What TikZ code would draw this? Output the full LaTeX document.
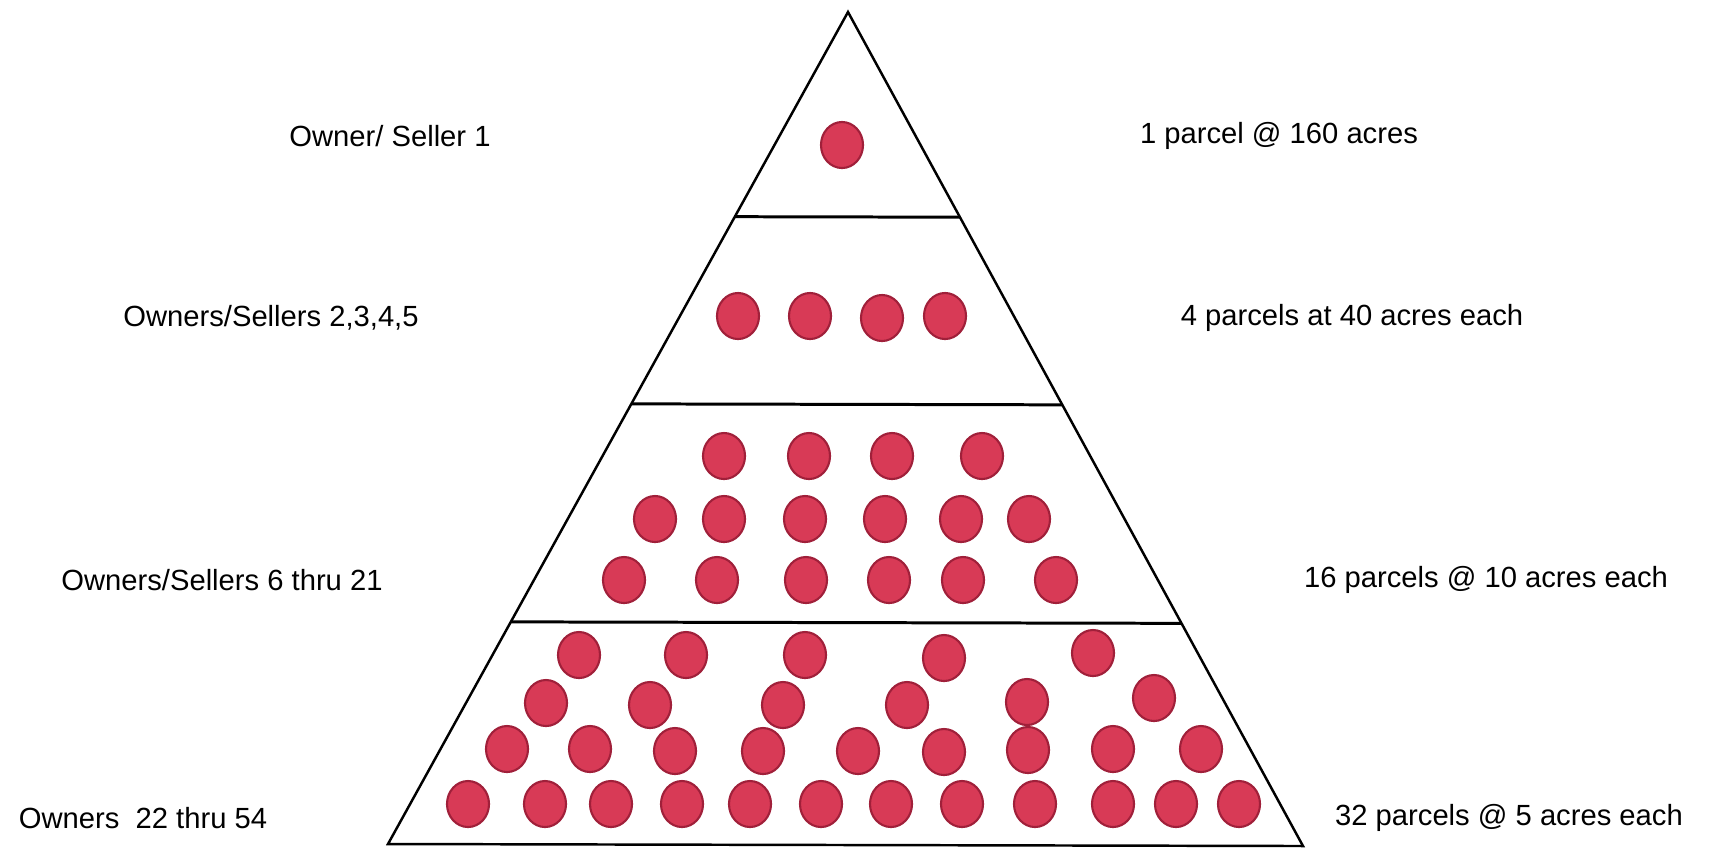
\documentclass[tikz,border=0pt]{standalone}
\usepackage{fontspec}
\setmainfont{Liberation Sans}
\usetikzlibrary{calc}
\definecolor{parcelred}{RGB}{216,58,86}
\definecolor{parcelrim}{RGB}{160,32,58}
\tikzset{
  parcel/.style={fill=parcelred, draw=parcelrim, line width=0.6pt},
  tiertext/.style={font=\fontsize{8.3}{10}\selectfont, inner sep=0pt},
  divider/.style={line width=0.85pt}
}
\begin{document}
\begin{tikzpicture}[x=0.01cm, y=-0.01cm]
    \useasboundingbox (0,0) rectangle (1711,850);

    % pyramid outline
    \coordinate (apex) at (848,12);
    \coordinate (bl) at (388,844);
    \coordinate (br) at (1303,846);
    \draw[line width=0.7pt] (apex) -- (bl) -- (br) -- cycle;

    % tier dividers
    \draw[divider] ($(apex)!0.246!(bl)$) -- ($(apex)!0.246!(br)$);
    \draw[divider] ($(apex)!0.471!(bl)$) -- ($(apex)!0.471!(br)$);
    \draw[divider] ($(apex)!0.733!(bl)$) -- ($(apex)!0.733!(br)$);

    % parcels, one dot each
    \foreach \px/\py in {842/145,
        738/316, 810/316, 882/318, 945/316,
        724/456, 809/456, 892/456, 982/456,
        655/519, 724/519, 805/519, 885/519, 961/519, 1029/519,
        624/580, 717/580, 806/580, 889/580, 963/580, 1056/580,
        579/655, 686/655, 805/655, 944/658, 1093/653,
        546/703, 650/705, 783/705, 907/705, 1027/702, 1154/698,
        507/749, 590/749, 675/751, 763/751, 858/751, 944/752, 1028/750, 1113/749, 1201/749,
        468/804, 545/804, 611/804, 682/804, 750/804, 821/804, 891/804, 962/804, 1035/804, 1113/804, 1176/804, 1239/804}
        \draw[parcel] (\px,\py) ellipse [x radius=0.21cm, y radius=0.23cm];

    % owners on the left
    \node[tiertext] (own1) at (390,136) {Owner/ Seller 1};
    \node[tiertext] (own2) at (271,318) {Owners/Sellers 2,3,4,5};
    \node[tiertext] (own3) at (222,580) {Owners/Sellers 6 thru 21};
    \node[tiertext] (own4) at (143,818) {Owners\ \ 22 thru 54};

    % parcel sizes on the right
    \node[tiertext] (size1) at (1279,136) {1 parcel @ 160 acres};
    \node[tiertext] (size2) at (1352,318) {4 parcels at 40 acres each};
    \node[tiertext] (size3) at (1486,580) {16 parcels @ 10 acres each};
    \node[tiertext] (size4) at (1509,818) {32 parcels @ 5 acres each};
\end{tikzpicture}
\end{document}
